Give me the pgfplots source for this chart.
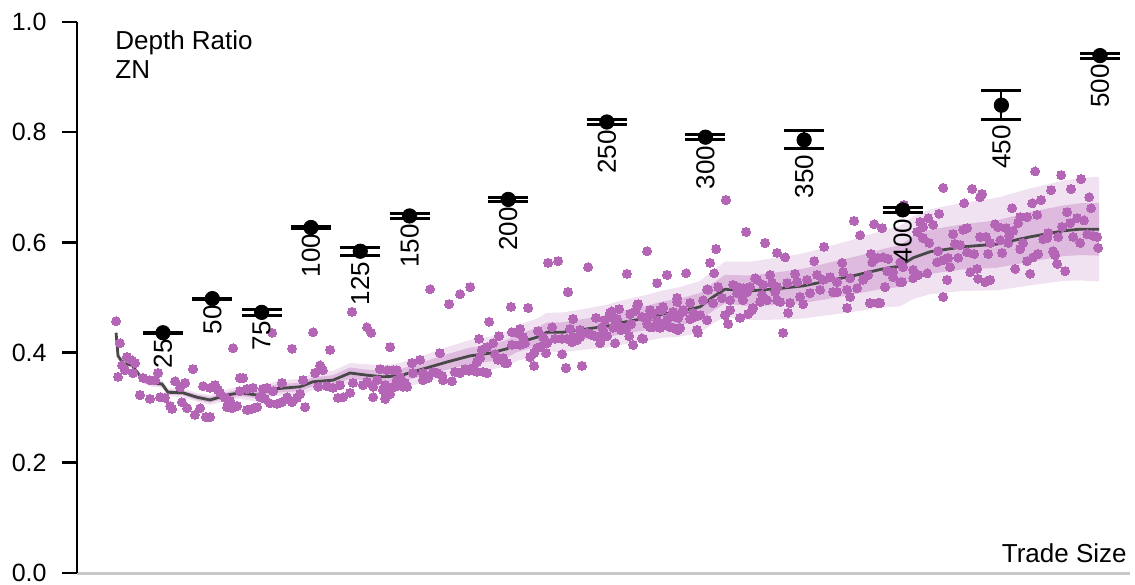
\documentclass[border=0pt]{standalone}
\usepackage{fontspec}
\setmainfont{Liberation Sans}
\usepackage{pgfplots}
\usepackage{pgfplotstable}
\pgfplotsset{compat=1.18}
\usepgfplotslibrary{fillbetween}
\definecolor{dot}{RGB}{181,101,181}
\definecolor{bandout}{RGB}{241,226,241}
\definecolor{bandin}{RGB}{222,187,222}
\definecolor{meanline}{RGB}{72,72,72}
\definecolor{baseln}{RGB}{200,200,200}

\pgfplotstableread{
s m lo2 lo1 hi1 hi2
1.2 0.436 0.432 0.434 0.438 0.440
2.2 0.394 0.390 0.392 0.396 0.398
4.7 0.381 0.376 0.378 0.384 0.386
9.3 0.377 0.371 0.374 0.380 0.383
14.9 0.350 0.344 0.347 0.353 0.356
19.4 0.345 0.338 0.341 0.349 0.352
24.5 0.343 0.336 0.339 0.347 0.350
27.5 0.328 0.321 0.324 0.332 0.335
35.1 0.327 0.319 0.323 0.331 0.335
42.2 0.319 0.311 0.314 0.324 0.327
48.8 0.314 0.305 0.309 0.319 0.323
57.4 0.323 0.313 0.318 0.328 0.333
64.0 0.327 0.316 0.321 0.333 0.338
72.6 0.323 0.311 0.317 0.329 0.335
80.8 0.334 0.321 0.327 0.341 0.347
94.5 0.338 0.323 0.330 0.346 0.353
101.0 0.347 0.332 0.339 0.355 0.362
111.2 0.350 0.333 0.341 0.359 0.367
119.8 0.363 0.345 0.353 0.373 0.381
128.4 0.359 0.339 0.349 0.369 0.379
136.5 0.356 0.335 0.345 0.367 0.377
145.1 0.358 0.335 0.346 0.370 0.381
151.7 0.365 0.341 0.353 0.377 0.389
160.4 0.374 0.349 0.361 0.387 0.399
169.0 0.383 0.356 0.369 0.397 0.410
180.6 0.394 0.365 0.379 0.409 0.423
190.8 0.399 0.369 0.384 0.414 0.429
199.4 0.407 0.375 0.391 0.423 0.439
204.5 0.417 0.385 0.401 0.433 0.449
214.6 0.428 0.394 0.411 0.445 0.462
219.7 0.437 0.402 0.419 0.455 0.472
227.8 0.437 0.401 0.419 0.455 0.473
239.9 0.443 0.406 0.424 0.462 0.480
250.1 0.448 0.409 0.428 0.468 0.487
256.7 0.454 0.414 0.433 0.475 0.494
270.3 0.463 0.421 0.441 0.485 0.505
278.5 0.470 0.427 0.447 0.493 0.513
287.1 0.474 0.429 0.450 0.498 0.519
297.2 0.483 0.436 0.458 0.508 0.530
303.8 0.501 0.453 0.476 0.526 0.549
309.9 0.515 0.465 0.489 0.541 0.565
322.6 0.512 0.459 0.484 0.540 0.565
339.3 0.517 0.460 0.487 0.547 0.574
349.4 0.521 0.462 0.490 0.552 0.580
364.7 0.532 0.469 0.499 0.565 0.595
376.8 0.541 0.475 0.507 0.575 0.607
390.0 0.552 0.482 0.516 0.588 0.622
398.6 0.557 0.484 0.519 0.595 0.630
405.2 0.572 0.497 0.533 0.611 0.647
413.8 0.583 0.506 0.543 0.623 0.660
430.6 0.592 0.512 0.551 0.633 0.672
447.8 0.597 0.513 0.554 0.640 0.681
464.5 0.610 0.522 0.565 0.655 0.698
481.3 0.621 0.530 0.575 0.667 0.712
489.9 0.624 0.531 0.577 0.671 0.717
499.5 0.624 0.529 0.576 0.672 0.719
}\band

\pgfplotstableread{
s v ep em lo lab
25 0.436 0.001 0.001 0.435 25
50 0.498 0.001 0.001 0.497 50
75 0.473 0.005 0.005 0.468 75
100 0.627 0.001 0.001 0.626 100
125 0.584 0.006 0.008 0.576 125
150 0.648 0.0045 0.0045 0.6435 150
200 0.678 0.0035 0.0035 0.6745 200
250 0.8185 0.004 0.004 0.8145 250
300 0.791 0.005 0.005 0.786 300
350 0.786 0.017 0.016 0.770 350
400 0.659 0.005 0.005 0.654 400
450 0.849 0.026 0.026 0.823 450
500 0.939 0.0045 0.0045 0.9345 500
}\pts

\pgfplotstableread{
s v
1.2 0.457
3.2 0.417
6.7 0.392
9.3 0.386
10.8 0.381
4.2 0.377
5.7 0.368
2.2 0.356
9.8 0.363
14.9 0.354
18.4 0.350
21.0 0.350
22.5 0.363
13.3 0.323
18.4 0.316
23.5 0.319
26.0 0.318
28.6 0.303
29.6 0.298
31.1 0.348
33.6 0.337
36.2 0.345
40.2 0.370
37.2 0.299
34.6 0.310
41.2 0.287
43.8 0.299
46.8 0.283
48.8 0.283
45.3 0.339
48.8 0.336
51.4 0.341
52.9 0.332
53.9 0.327
56.4 0.318
59.0 0.312
57.5 0.301
60.0 0.299
62.5 0.303
60.5 0.408
64.0 0.354
65.6 0.354
64.0 0.330
67.6 0.334
70.6 0.336
67.6 0.296
70.1 0.298
72.7 0.301
75.7 0.334
77.7 0.336
80.8 0.330
74.2 0.319
76.7 0.316
79.2 0.308
82.8 0.307
85.3 0.310
85.3 0.345
80.3 0.436
90.4 0.407
87.9 0.319
90.4 0.310
92.9 0.318
94.5 0.325
97.0 0.301
96.0 0.350
101.1 0.437
102.1 0.363
104.6 0.377
106.1 0.368
103.6 0.338
108.1 0.339
111.2 0.336
114.7 0.341
109.7 0.405
113.7 0.318
116.3 0.319
119.8 0.327
120.8 0.474
128.4 0.446
130.5 0.436
121.3 0.345
126.4 0.341
128.4 0.347
131.5 0.338
133.5 0.350
131.5 0.319
137.6 0.316
140.1 0.325
136.5 0.332
135.0 0.370
140.1 0.410
143.6 0.368
143.6 0.350
142.6 0.338
170.0 0.488
201.4 0.483
210.1 0.481
190.3 0.456
138.6 0.368
141.6 0.368
137.6 0.341
141.6 0.338
139.1 0.327
145.2 0.356
147.7 0.345
148.7 0.338
146.7 0.338
151.2 0.381
155.3 0.387
151.7 0.363
156.8 0.363
156.8 0.350
159.4 0.354
161.9 0.365
163.9 0.363
166.5 0.358
167.0 0.350
171.5 0.348
165.4 0.399
173.0 0.365
175.6 0.363
178.1 0.370
180.1 0.367
182.2 0.372
184.2 0.383
185.7 0.390
185.2 0.425
184.2 0.365
187.2 0.365
189.3 0.363
186.7 0.405
189.3 0.410
192.3 0.417
195.3 0.430
193.3 0.397
194.8 0.387
197.4 0.390
198.4 0.381
199.4 0.381
201.9 0.437
204.5 0.436
206.0 0.443
201.9 0.414
206.0 0.414
208.5 0.417
207.5 0.428
211.1 0.392
213.1 0.399
214.6 0.408
216.1 0.410
213.1 0.376
215.1 0.439
217.7 0.428
218.7 0.419
219.7 0.417
222.2 0.446
219.2 0.399
227.3 0.397
229.3 0.372
237.4 0.376
223.7 0.425
227.3 0.425
229.8 0.425
232.4 0.419
232.9 0.428
234.9 0.423
236.4 0.428
240.0 0.436
242.5 0.432
244.0 0.430
232.9 0.461
231.4 0.443
236.4 0.441
244.5 0.463
247.6 0.446
248.1 0.441
246.6 0.417
248.1 0.428
250.1 0.430
254.2 0.417
251.6 0.472
252.6 0.475
256.2 0.479
255.2 0.461
257.2 0.441
260.2 0.446
262.3 0.452
263.3 0.414
268.4 0.425
265.3 0.485
265.8 0.488
270.4 0.452
273.0 0.446
275.5 0.459
278.0 0.477
280.5 0.459
282.0 0.446
283.6 0.445
286.1 0.441
285.6 0.492
160.4 0.515
175.6 0.506
180.7 0.519
220.2 0.563
225.3 0.566
230.3 0.510
240.5 0.555
260.2 0.543
270.4 0.584
275.5 0.526
280.5 0.541
290.2 0.544
302.3 0.563
305.4 0.588
304.4 0.544
320.6 0.619
330.2 0.599
336.3 0.581
301.3 0.514
303.8 0.490
308.4 0.499
309.9 0.468
311.5 0.452
317.5 0.463
321.6 0.470
324.1 0.481
314.0 0.523
316.0 0.519
318.6 0.501
321.1 0.510
326.2 0.532
328.7 0.505
332.8 0.541
333.8 0.526
336.3 0.519
296.2 0.436
295.7 0.441
300.8 0.459
297.3 0.468
294.7 0.465
292.2 0.461
285.6 0.499
292.2 0.490
288.6 0.474
286.1 0.463
279.5 0.450
277.0 0.445
270.9 0.465
267.8 0.465
273.0 0.472
277.0 0.477
278.5 0.483
282.0 0.465
283.6 0.474
264.3 0.475
261.8 0.470
254.2 0.461
251.6 0.465
249.1 0.459
253.2 0.445
261.3 0.430
267.8 0.426
256.7 0.447
248.1 0.435
310.4 0.677
340.4 0.573
375.3 0.639
378.4 0.613
385.5 0.633
389.5 0.626
360.1 0.592
355.1 0.566
369.3 0.563
369.8 0.546
407.3 0.619
410.3 0.608
413.4 0.599
408.8 0.637
412.9 0.644
415.4 0.632
418.4 0.652
384.5 0.564
387.5 0.572
390.0 0.573
392.6 0.570
383.9 0.579
392.1 0.548
395.1 0.537
300.8 0.515
298.8 0.495
306.4 0.519
312.5 0.495
316.0 0.508
319.1 0.517
322.6 0.519
325.1 0.535
329.2 0.523
335.3 0.510
341.4 0.526
345.4 0.543
346.4 0.528
351.5 0.532
356.6 0.541
359.6 0.532
363.2 0.537
366.7 0.528
373.3 0.535
379.9 0.532
382.4 0.541
319.1 0.495
323.6 0.477
312.5 0.477
327.7 0.492
331.2 0.495
336.3 0.495
337.8 0.492
342.9 0.490
341.9 0.472
349.5 0.488
348.0 0.501
353.0 0.508
358.1 0.514
364.7 0.510
371.8 0.514
373.3 0.501
376.9 0.517
383.4 0.490
387.5 0.490
371.8 0.481
366.7 0.510
339.3 0.436
271.9 0.477
278.5 0.481
288.6 0.477
287.1 0.445
271.9 0.446
293.7 0.472
399.7 0.528
405.3 0.535
391.0 0.519
400.2 0.555
412.4 0.544
422.5 0.532
420.5 0.568
417.4 0.564
420.5 0.501
467.1 0.729
480.3 0.722
490.4 0.715
420.5 0.699
435.2 0.697
439.2 0.682
440.2 0.688
475.2 0.695
485.3 0.697
494.5 0.682
495.5 0.662
431.1 0.671
455.4 0.662
465.6 0.671
470.1 0.677
400.7 0.668
483.3 0.655
484.8 0.635
488.4 0.644
491.9 0.640
480.8 0.628
459.5 0.646
463.0 0.646
468.1 0.650
458.5 0.635
410.3 0.628
425.5 0.615
430.6 0.623
432.6 0.626
446.8 0.633
448.3 0.628
452.4 0.626
455.9 0.621
453.9 0.612
442.3 0.610
444.3 0.599
449.4 0.604
439.2 0.610
417.9 0.584
426.5 0.597
429.1 0.595
432.6 0.582
436.2 0.579
423.0 0.572
428.1 0.572
424.0 0.555
434.2 0.546
437.7 0.552
438.2 0.534
441.8 0.528
444.3 0.532
443.3 0.579
450.4 0.581
453.4 0.599
461.0 0.599
463.0 0.566
464.6 0.543
466.1 0.573
468.6 0.579
476.2 0.584
477.2 0.577
478.3 0.561
482.3 0.548
486.4 0.610
489.9 0.599
493.5 0.615
496.5 0.612
498.5 0.610
499.1 0.590
473.2 0.608
471.2 0.606
473.7 0.617
478.8 0.610
459.5 0.588
457.0 0.552
395.1 0.546
398.7 0.528
405.3 0.550
407.8 0.541
398.7 0.564
388.5 0.490
}\scat

\begin{document}
\begin{tikzpicture}
\begin{axis}[name=ax, scale only axis, width=526.5bp, height=275.5bp,
  xmin=-18.6, xmax=515.2, ymin=0, ymax=1,
  clip=false,
  axis x line*=bottom, axis y line*=left,
  x axis line style={draw=baseln, line width=1.5bp, -},
  y axis line style={draw=black, line width=1.3bp, -},
  xtick=\empty,
  ytick={0,0.2,0.4,0.6,0.8,1.0},
  tick align=outside, major tick length=7.5bp,
  ytick style={draw=black, line width=1.3bp},
  font=\fontsize{12.5bp}{14.5bp}\selectfont,
  yticklabel style={inner sep=0pt, xshift=-7.5bp},
  /pgf/number format/fixed, /pgf/number format/fixed zerofill,
  /pgf/number format/precision=1, /pgf/number format/assume math mode=true,
]
\addplot[draw=none, name path=ohi, forget plot] table[x=s,y=hi2]{\band};
\addplot[draw=none, name path=olo, forget plot] table[x=s,y=lo2]{\band};
\addplot[fill=bandout, draw=none] fill between[of=ohi and olo];
\addplot[draw=none, name path=ihi, forget plot] table[x=s,y=hi1]{\band};
\addplot[draw=none, name path=ilo, forget plot] table[x=s,y=lo1]{\band};
\addplot[fill=bandin, draw=none] fill between[of=ihi and ilo];
\addplot[dot, only marks, mark=*, mark size=2.25bp, mark options={fill=dot, draw=dot, line width=0pt}] table[x=s,y=v]{\scat};
\addplot[meanline, line width=1.4bp] table[x=s,y=m]{\band};
\addplot[black, only marks, mark=*, mark size=3.6bp,
  error bars/.cd, y dir=both, y explicit,
  error bar style={line width=1bp, black},
  error mark options={rotate=90, mark size=10bp, line width=1.5bp, black}]
  table[x=s, y=v, y error plus=ep, y error minus=em]{\pts};
\addplot[only marks, mark=none, point meta=explicit symbolic,
  nodes near coords,
  nodes near coords style={rotate=90, anchor=east, inner sep=0pt, inner xsep=2.8bp, black, font=\fontsize{13bp}{15bp}\selectfont}]
  table[x=s, y=lo, meta=lab]{\pts};
\node[anchor=north west, align=left, inner sep=0pt, font=\fontsize{13bp}{14.5bp}\selectfont] at ([xshift=19bp, yshift=-4bp]rel axis cs:0,1) {Depth Ratio\\ZN};
\node[anchor=base east, inner sep=0pt, font=\fontsize{13bp}{15bp}\selectfont] at ([xshift=-1.5bp, yshift=5.5bp]rel axis cs:1,0) {Trade Size};
\end{axis}
\pgfresetboundingbox
\useasboundingbox ([xshift=-38.5bp,yshift=-6bp]ax.south west) rectangle ([xshift=2.5bp,yshift=11bp]ax.north east);
\end{tikzpicture}
\end{document}
